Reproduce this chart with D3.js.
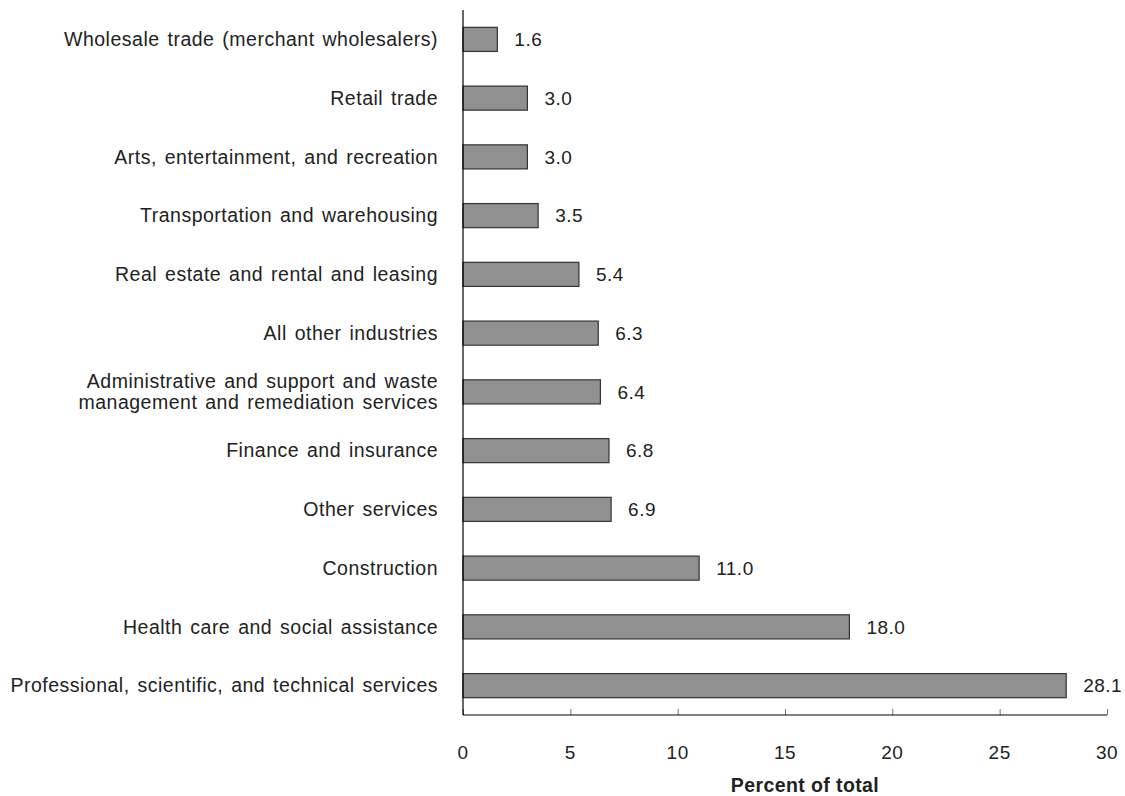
<!DOCTYPE html>
<html><head><meta charset="utf-8">
<script src="https://cdn.jsdelivr.net/npm/d3@7"></script>
<style>body{margin:0;background:#fff;} text{font-family:"Liberation Sans",Arial,sans-serif;fill:#222;}</style>
</head><body>
<svg id="c" width="1125" height="796"></svg>
<script>
const categories = [
  ["Wholesale trade (merchant wholesalers)"],
  ["Retail trade"],
  ["Arts, entertainment, and recreation"],
  ["Transportation and warehousing"],
  ["Real estate and rental and leasing"],
  ["All other industries"],
  ["Administrative and support and waste", "management and remediation services"],
  ["Finance and insurance"],
  ["Other services"],
  ["Construction"],
  ["Health care and social assistance"],
  ["Professional, scientific, and technical services"]
];
const values = [1.6, 3.0, 3.0, 3.5, 5.4, 6.3, 6.4, 6.8, 6.9, 11.0, 18.0, 28.1];
const xTicks = [0, 5, 10, 15, 20, 25, 30];
const xTitle = "Percent of total";

const svg = d3.select("#c");
const mLeft = 463, mRight = 1107, mTop = 10, mBottom = 715;
const x = d3.scaleLinear().domain([0, 30]).range([mLeft, mRight]);
const y = d3.scaleBand().domain(d3.range(categories.length)).range([mTop, mBottom]).paddingInner(0.59).paddingOuter(0.295);

// bars
svg.selectAll("rect.bar").data(values).join("rect")
  .attr("x", x(0)).attr("y", (d, i) => y(i))
  .attr("width", d => x(d) - x(0)).attr("height", y.bandwidth())
  .attr("fill", "#909090").attr("stroke", "#333").attr("stroke-width", 1.2);

// value labels
svg.selectAll("text.val").data(values).join("text")
  .attr("x", d => x(d) + 17).attr("y", (d, i) => y(i) + y.bandwidth() / 2)
  .attr("dy", "0.35em").attr("font-size", 19).attr("letter-spacing", 0.5).text(d => d.toFixed(1));

// category labels
const cl = svg.selectAll("text.cat").data(categories).join("text")
  .attr("text-anchor", "end").attr("font-size", 19.5).attr("letter-spacing", 0.5).attr("word-spacing", 2)
  .attr("transform", (d, i) => `translate(${mLeft - 25},${y(i) + y.bandwidth() / 2})`);
cl.selectAll("tspan").data(d => d.map((t, k) => ({t, k, n: d.length}))).join("tspan")
  .attr("x", 0).attr("y", d => (d.k - (d.n - 1) / 2) * 21).attr("dy", "0.35em").text(d => d.t);

// x axis
const ax = svg.append("g").attr("transform", `translate(0,${mBottom})`)
  .call(d3.axisTop(x).tickValues(xTicks).tickSize(6).tickFormat(""));
ax.select(".domain").remove();
ax.selectAll("line").attr("stroke", "#777");
svg.append("line").attr("x1", mLeft).attr("x2", mRight).attr("y1", mBottom).attr("y2", mBottom).attr("stroke", "#000").attr("stroke-width", 1.2);
svg.append("line").attr("x1", mLeft).attr("x2", mLeft).attr("y1", mTop).attr("y2", mBottom).attr("stroke", "#000").attr("stroke-width", 1.2);
svg.selectAll("text.tick").data(xTicks).join("text")
  .attr("x", d => x(d)).attr("y", 752).attr("dy", "0.35em").attr("text-anchor", "middle")
  .attr("font-size", 19).attr("letter-spacing", 0.5).text(d => d);
svg.append("text").attr("x", 805).attr("y", 785).attr("dy", "0.35em").attr("text-anchor", "middle")
  .attr("font-size", 19.5).attr("letter-spacing", 0.4).attr("font-weight", "bold").text(xTitle);
</script>
</body></html>
